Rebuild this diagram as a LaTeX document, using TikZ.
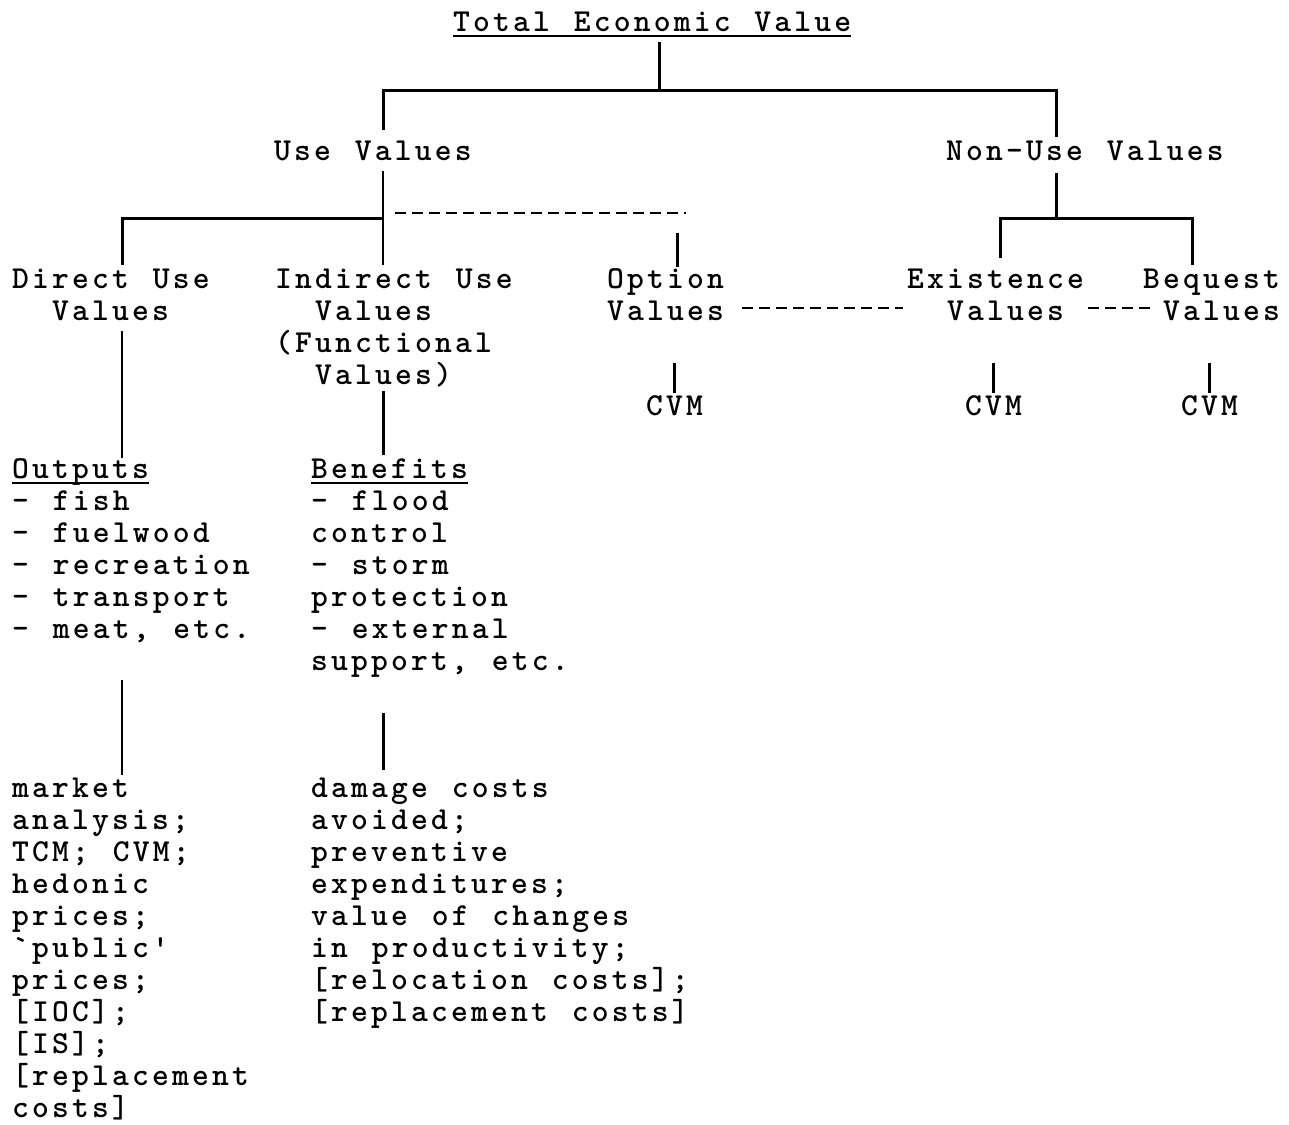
\documentclass[tikz,border=0pt]{standalone}
\usepackage{fontspec}
\usepackage{tikz}
\usetikzlibrary{calc,positioning}

\newfontfamily\tyw{lmmono10-regular}[Extension=.otf, BoldFont=lmmonolt10-bold, LetterSpace=10, WordSpace=1.19]
\newlength\cw
\setlength\cw{20pt}
\newcommand\ind[1]{\hspace*{#1\cw}}
\newcommand\undl[2][-6pt]{\setbox0\hbox{#2}\rlap{\rule[#1]{\wd0}{2pt}}#2}

\begin{document}
\begin{tikzpicture}[x=1pt, y=-1pt,
		lbl/.style = {font=\tyw\bfseries\fontsize{32}{32}\selectfont, inner sep=0pt, anchor=base west, align=left},
		lst/.style = {lbl},
		trunk/.style = {draw, line width=3pt},
		stem/.style = {draw, line width=2pt},
		dashline/.style = {draw, line width=2pt, dash pattern=on 11pt off 6pt}]
	\useasboundingbox (0,0) rectangle (1289,1124);
	
	% the value headings (base = baseline of the last line)
	\node[lbl] (tev) at (453,32) {\undl[-5pt]{Total Economic Value}};
	\node[lbl] (usev) at (274,160) {Use Values};
	\node[lbl] (nonuse) at (946,160) {Non-Use Values};
	
	\node[lbl] (direct) at (12,320) {Direct Use\\\ind{2}Values};
	\node[lbl] (indirect) at (275,384) {Indirect Use\\\ind{2}Values\\(Functional\\\ind{2}Values)};
	\node[lbl] (option) at (607,320) {Option\\Values};
	\node[lbl] (exist) at (907,320) {Existence\\\ind{2}Values};
	\node[lbl] (bequest) at (1143,320) {Bequest\\\ind{1}Values};
	
	\node[lbl] (cvmo) at (646,415) {CVM};
	\node[lbl] (cvme) at (965,415) {CVM};
	\node[lbl] (cvmb) at (1181,415) {CVM};
	
	% outputs, benefits and how they are valued
	\node[lst] (outputs) at (12,638) {\undl{Outputs}\\- fish\\- fuelwood\\- recreation\\- transport\\- meat, etc.};
	\node[lst] (benefits) at (311,670) {\undl{Benefits}\\- flood\\control\\- storm\\protection\\- external\\support, etc.};
	\node[lst] (dmeth) at (12,1117) {market\\analysis;\\TCM; CVM;\\hedonic\\prices;\\`public'\\prices;\\{}[IOC];\\{}[IS];\\{}[replacement\\costs]};
	\node[lst] (imeth) at (311,1021) {damage costs\\avoided;\\preventive\\expenditures;\\value of changes\\in productivity;\\{}[relocation costs];\\{}[replacement costs]};
	
	% junctions of the tree
	\coordinate (top) at (659,90);
	\coordinate (uj) at (383,218);
	\coordinate (dj) at (122,218);
	\coordinate (od) at (686,213);
	\coordinate (oj) at (677,233);
	\coordinate (nj) at (1056,218);
	\coordinate (ej) at (1000,218);
	\coordinate (bj) at (1192,218);
	
	% first split
	\draw[trunk, shorten <=5pt] (top |- tev.south) -- (top);
	\draw[trunk, shorten >=10pt] (top) -| (uj |- usev.north);
	\draw[trunk, shorten >=3pt] (top) -| (nj |- nonuse.north);
	
	% use values
	\draw[stem, shorten <=10pt, shorten >=3pt] (uj |- usev.south) -- (uj |- indirect.north);
	\draw[trunk, shorten >=3pt] (uj) -- (dj) -- (dj |- direct.north);
	\draw[dashline, shorten <=12pt] (uj |- od) -- (od);
	\draw[trunk, shorten >=1pt] (oj) -- (oj |- option.north);
	
	% non-use values
	\draw[trunk, shorten <=12pt] (nj |- nonuse.south) -- (nj);
	\draw[trunk, shorten <=10pt, shorten >=3pt] (ej |- exist.north) -- (ej) -- (bj) -- (bj |- bequest.north);
	\draw[dashline, shorten <=18pt, shorten >=4pt] (option.east |- 0,308) -- (exist.west |- 0,308);
	\draw[dashline, shorten <=4pt, shorten >=-11pt] (exist.east |- 0,308) -- (bequest.west |- 0,308);
	
	% CVM under each
	\foreach \v/\c in {option/cvmo, exist/cvme, bequest/cvmb}
	\draw[trunk, shorten <=43pt, shorten >=2pt] (\c.north |- \v.south) -- (\c.north);
	
	% down to the outputs and benefits
	\draw[stem, shorten <=11pt] (dj |- direct.south) -- (dj |- outputs.north);
	\draw[trunk, shorten <=4pt, shorten >=3pt] (uj |- indirect.south) -- (uj |- benefits.north);
	\draw[stem, shorten <=37pt, shorten >=2pt] (dj |- outputs.south) -- (dj |- dmeth.north);
	\draw[trunk, shorten <=36pt, shorten >=7pt] (uj |- benefits.south) -- (uj |- imeth.north);
	
\end{tikzpicture}
\end{document}
